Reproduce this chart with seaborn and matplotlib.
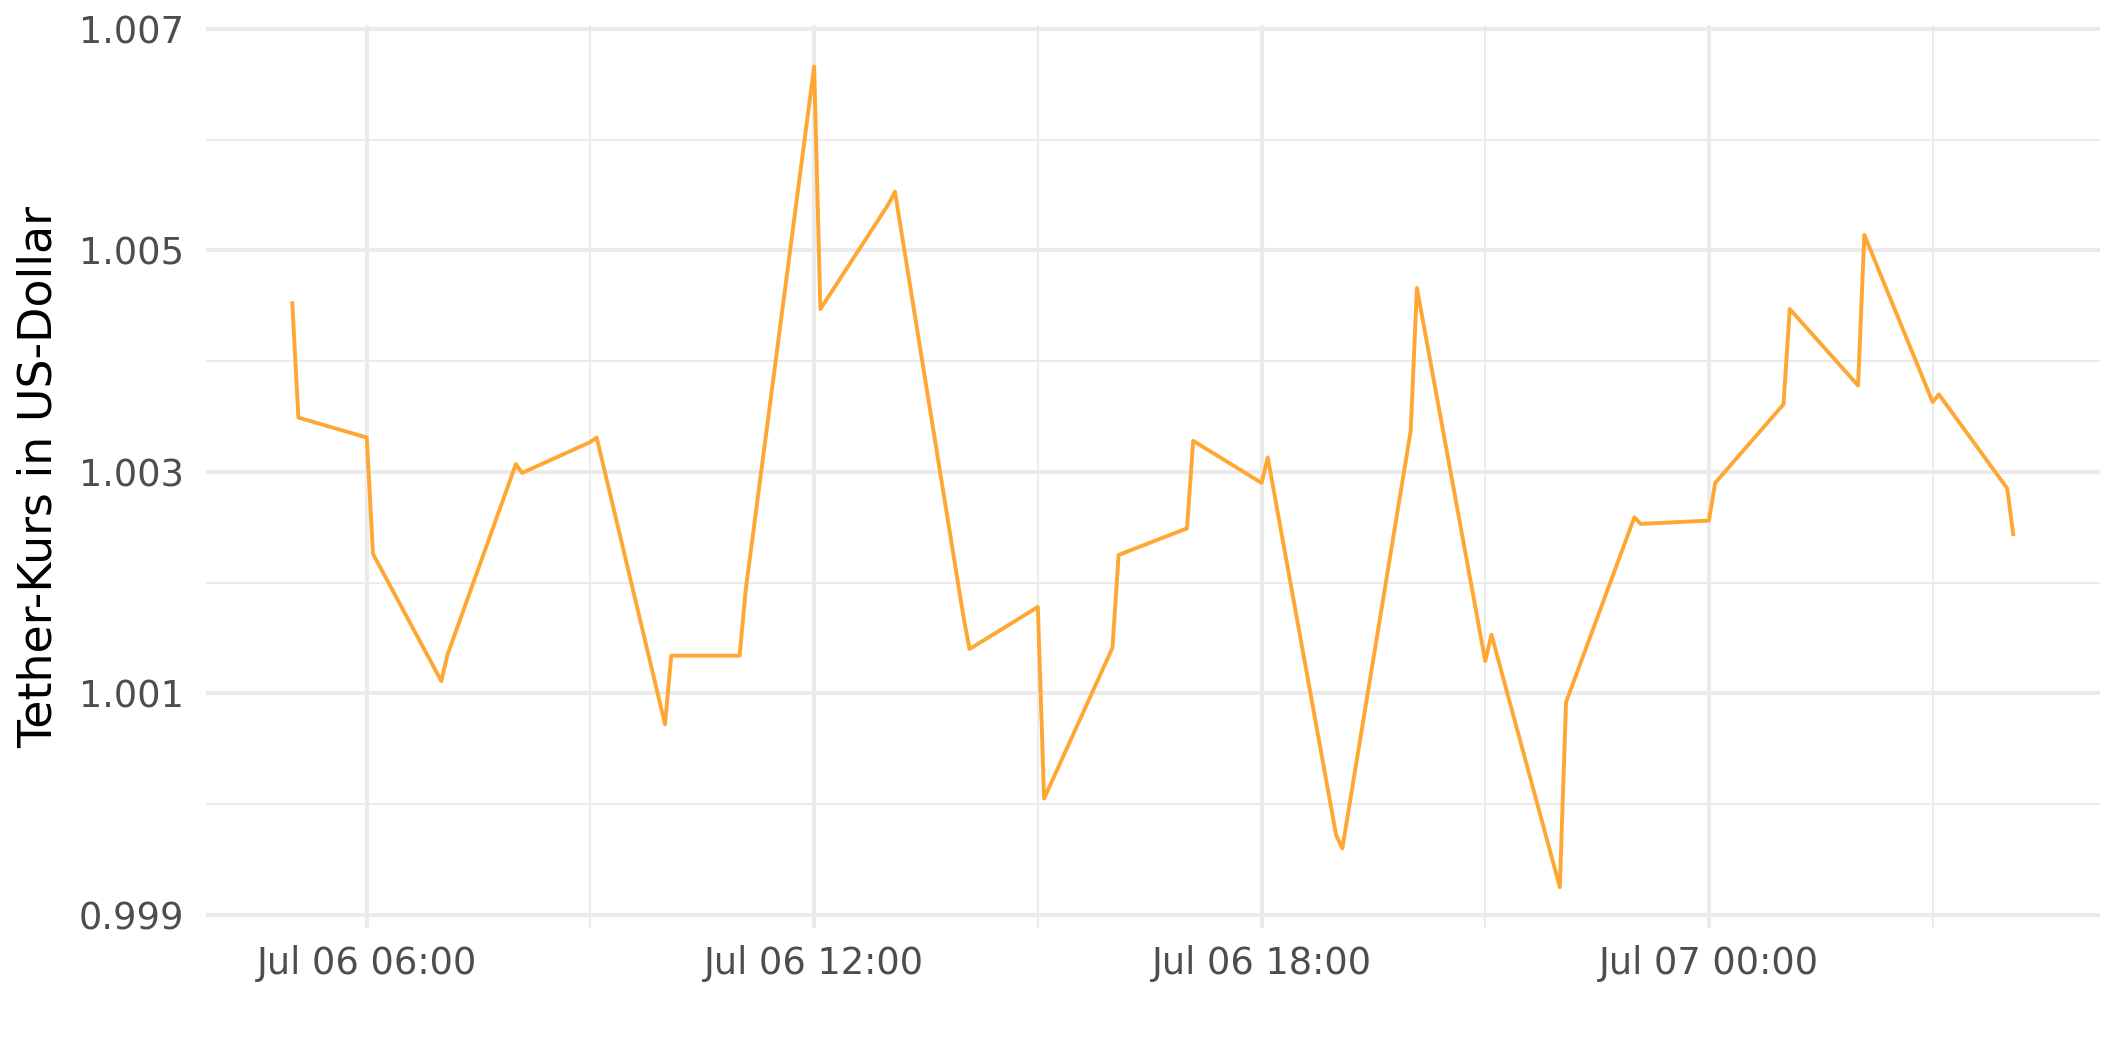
import matplotlib
matplotlib.use("Agg")
import matplotlib.pyplot as plt
import matplotlib.dates as mdates
import numpy as np
import pandas as pd
import seaborn as sns

# hourly readings, two per hour (hh:00 and hh:05)
times = [
    "2021-07-06 05:00", "2021-07-06 05:05", "2021-07-06 06:00", "2021-07-06 06:05",
    "2021-07-06 07:00", "2021-07-06 07:05", "2021-07-06 08:00", "2021-07-06 08:05",
    "2021-07-06 09:00", "2021-07-06 09:05", "2021-07-06 10:00", "2021-07-06 10:05",
    "2021-07-06 11:00", "2021-07-06 11:05", "2021-07-06 12:00", "2021-07-06 12:05",
    "2021-07-06 13:00", "2021-07-06 13:05", "2021-07-06 14:00", "2021-07-06 14:05",
    "2021-07-06 15:00", "2021-07-06 15:05", "2021-07-06 16:00", "2021-07-06 16:05",
    "2021-07-06 17:00", "2021-07-06 17:05", "2021-07-06 18:00", "2021-07-06 18:05",
    "2021-07-06 19:00", "2021-07-06 19:05", "2021-07-06 20:00", "2021-07-06 20:05",
    "2021-07-06 21:00", "2021-07-06 21:05", "2021-07-06 22:00", "2021-07-06 22:05",
    "2021-07-06 23:00", "2021-07-06 23:05", "2021-07-07 00:00", "2021-07-07 00:05",
    "2021-07-07 01:00", "2021-07-07 01:05", "2021-07-07 02:00", "2021-07-07 02:05",
    "2021-07-07 03:00", "2021-07-07 03:05", "2021-07-07 04:00", "2021-07-07 04:05",
]
usdt_price = [
    1.00454, 1.00349, 1.00331, 1.00226,
    1.00111, 1.00135, 1.00307, 1.00299,
    1.00327, 1.00331, 1.00072, 1.00134,
    1.00134, 1.00194, 1.00666, 1.00447,
    1.00542, 1.00553, 1.00170, 1.00140,
    1.00178, 1.00005, 1.00141, 1.00225,
    1.00249, 1.00328, 1.00290, 1.00313,
    0.99972, 0.99960, 1.00337, 1.00466,
    1.00129, 1.00153, 0.99925, 1.00092,
    1.00259, 1.00253, 1.00256, 1.00290,
    1.00361, 1.00447, 1.00378, 1.00514,
    1.00363, 1.00370, 1.00285, 1.00242,
]
y_ticks = [0.999, 1.001, 1.003, 1.005, 1.007]
y_minor = [1.000, 1.002, 1.004, 1.006]

df = pd.DataFrame({"zeit": pd.to_datetime(times), "kurs": usdt_price})

sns.set_style("white")
plt.rcParams["font.family"] = ["DejaVu Sans"]

fig = plt.figure(figsize=(21.25, 10.62), dpi=100)
ax = fig.add_axes([0.097, 0.126, 0.891, 0.850])

grid = "#EBEBEB"
ax = sns.lineplot(data=df, x="zeit", y="kurs", color="#FFA733", linewidth=2.8, ax=ax)
for ln in ax.lines:
    ln.set_solid_capstyle("butt")
    ln.set_solid_joinstyle("round")

# ggplot-like 5% expansion
t0, t1 = mdates.date2num(df["zeit"].min()), mdates.date2num(df["zeit"].max())
pad = (t1 - t0) * 0.05
ax.set_xlim(t0 - pad, t1 + pad)
v0, v1 = min(usdt_price), max(usdt_price)
vpad = (v1 - v0) * 0.05
ax.set_ylim(v0 - vpad, v1 + vpad)

ax.xaxis.set_major_locator(mdates.HourLocator(byhour=[0, 6, 12, 18]))
ax.xaxis.set_minor_locator(mdates.HourLocator(byhour=[3, 9, 15, 21]))
ax.xaxis.set_major_formatter(mdates.DateFormatter("%b %d %H:%M"))
ax.set_yticks(y_ticks)
ax.set_yticks(y_minor, minor=True)
ax.set_yticklabels([f"{v:.3f}" for v in y_ticks])

ax.grid(which="major", color=grid, linewidth=2.9)
ax.grid(which="minor", color=grid, linewidth=1.4)
ax.set_axisbelow(True)
for s in ax.spines.values():
    s.set_visible(False)

ax.tick_params(which="both", length=0)
ax.tick_params(axis="x", labelsize=26.5, labelcolor="#4D4D4D", pad=12)
ax.tick_params(axis="y", labelsize=26.5, labelcolor="#4D4D4D", pad=16)
ax.set_xlabel("")
ax.set_ylabel("Tether-Kurs in US-Dollar", fontsize=33, color="black", labelpad=12)

fig.savefig("out.png", dpi=100, facecolor="white")
